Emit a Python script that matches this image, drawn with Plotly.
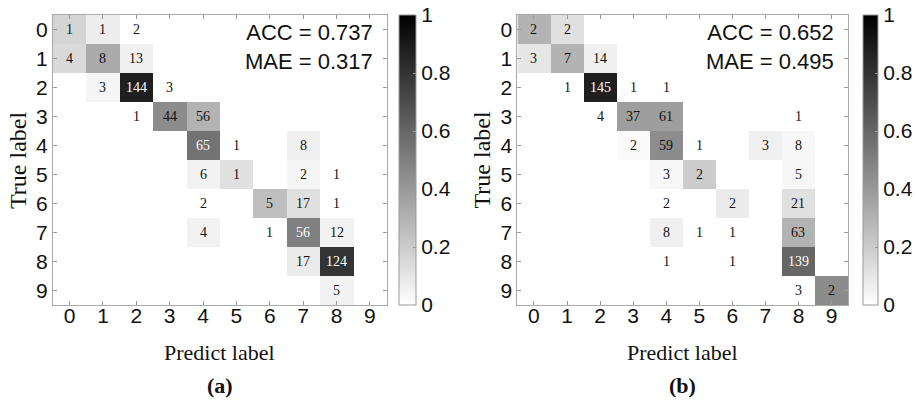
import plotly.graph_objects as go

labels = [str(i) for i in range(10)]

# Panel (a): counts (row, col, count) and shade (0..1)
a_rows   = [0, 0, 0, 1, 1, 1, 2, 2, 2, 3, 3, 3, 4, 4, 4, 5, 5, 5, 5, 6, 6, 6, 6, 7, 7, 7, 7, 8, 8, 9]
a_cols   = [0, 1, 2, 0, 1, 2, 1, 2, 3, 2, 3, 4, 4, 5, 7, 4, 5, 7, 8, 4, 6, 7, 8, 4, 6, 7, 8, 7, 8, 8]
a_counts = [1, 1, 2, 4, 8, 13, 3, 144, 3, 1, 44, 56, 65, 1, 8, 6, 1, 2, 1, 2, 5, 17, 1, 4, 1, 56, 12, 17, 124, 5]
a_shade  = [0.17, 0.07, 0.0, 0.15, 0.33, 0.06, 0.04, 0.88, 0.0, 0.0, 0.45, 0.3, 0.55, 0.0, 0.06,
            0.05, 0.12, 0.04, 0.0, 0.0, 0.25, 0.12, 0.0, 0.05, 0.0, 0.5, 0.05, 0.08, 0.8, 0.05]

# Panel (b)
b_rows   = [0, 0, 1, 1, 1, 2, 2, 2, 2, 3, 3, 3, 3, 4, 4, 4, 4, 4, 5, 5, 5, 6, 6, 6, 7, 7, 7, 7, 8, 8, 8, 9, 9]
b_cols   = [0, 1, 0, 1, 2, 1, 2, 3, 4, 2, 3, 4, 8, 3, 4, 5, 7, 8, 4, 5, 8, 4, 6, 8, 4, 5, 6, 8, 4, 6, 8, 8, 9]
b_counts = [2, 2, 3, 7, 14, 1, 145, 1, 1, 4, 37, 61, 1, 2, 59, 1, 3, 8, 3, 2, 5, 2, 2, 21, 8, 1, 1, 63, 1, 1, 139, 3, 2]
b_shade  = [0.3, 0.12, 0.1, 0.3, 0.06, 0.0, 0.88, 0.0, 0.0, 0.0, 0.38, 0.38, 0.0, 0.02, 0.45, 0.0, 0.06, 0.03,
            0.03, 0.2, 0.03, 0.0, 0.08, 0.12, 0.06, 0.0, 0.0, 0.3, 0.0, 0.0, 0.6, 0.0, 0.45]

panel_text = ["ACC = 0.737<br>MAE = 0.317", "ACC = 0.652<br>MAE = 0.495"]
panel_tags = ["(a)", "(b)"]
cbar_ticks = [0, 0.2, 0.4, 0.6, 0.8, 1]
cbar_ticktext = ["0", "0.2", "0.4", "0.6", "0.8", "1"]

W, H = 916, 401
px = lambda v: v / W
py = lambda v: 1 - v / H

panels = [
    dict(rows=a_rows, cols=a_cols, counts=a_counts, shade=a_shade, x0=53, x1=387, cb=399, cbw=17),
    dict(rows=b_rows, cols=b_cols, counts=b_counts, shade=b_shade, x0=518, x1=849, cb=863, cbw=15),
]
top, bottom = 15, 305

fig = go.Figure()
annotations = []
colorscale = [[0, "rgb(255,255,255)"], [1, "rgb(0,0,0)"]]
for k, p in enumerate(panels):
    z = [[0.0] * 10 for _ in range(10)]
    for r, c, s in zip(p["rows"], p["cols"], p["shade"]):
        z[r][c] = s
    xa = "x" if k == 0 else "x2"
    ya = "y" if k == 0 else "y2"
    fig.add_trace(go.Heatmap(
        z=z, x=list(range(10)), y=list(range(10)), xaxis=xa, yaxis=ya,
        zmin=0, zmax=1, colorscale=colorscale, hoverinfo="skip",
        colorbar=dict(
            x=px(p["cb"]), xanchor="left", xref="paper",
            y=py((top + bottom) / 2), yanchor="middle",
            len=bottom - top, lenmode="pixels", thickness=p["cbw"], thicknessmode="pixels",
            outlinecolor="#999", outlinewidth=1,
            tickvals=cbar_ticks, ticktext=cbar_ticktext,
            ticks="inside", ticklen=3, tickcolor="#999",
            tickfont=dict(family="Liberation Sans, Arial", size=21, color="#111"),
            xpad=0, ypad=0,
        ),
    ))
    for r, c, n, s in zip(p["rows"], p["cols"], p["counts"], p["shade"]):
        annotations.append(dict(
            x=c, y=r, xref=xa, yref=ya, text=str(n), showarrow=False,
            font=dict(family="Liberation Serif, Times New Roman", size=14,
                      color="white" if s >= 0.5 else "#111"),
        ))
    annotations.append(dict(
        x=px(p["x1"] - 12), y=py(top + 3), xref="paper", yref="paper",
        xanchor="right", yanchor="top", align="right", showarrow=False,
        text=panel_text[k],
        font=dict(family="Liberation Sans, Arial", size=22, color="#111"),
    ))
    cx = (p["x0"] + p["x1"]) / 2
    annotations.append(dict(
        x=px(cx), y=py(352), xref="paper", yref="paper", showarrow=False,
        xanchor="center", yanchor="middle",
        text="Predict label", font=dict(family="Liberation Serif, Times New Roman", size=22, color="#111"),
    ))
    annotations.append(dict(
        x=px(cx), y=py(385), xref="paper", yref="paper", showarrow=False,
        xanchor="center", yanchor="middle",
        text="<b>" + panel_tags[k] + "</b>",
        font=dict(family="Liberation Serif, Times New Roman", size=22, color="#111"),
    ))
    annotations.append(dict(
        x=px(p["x0"] - 35), y=py((top + bottom) / 2), xref="paper", yref="paper",
        xanchor="center", yanchor="middle",
        showarrow=False, textangle=-90,
        text="True label", font=dict(family="Liberation Serif, Times New Roman", size=24, color="#111"),
    ))

axis_common = dict(
    tickvals=list(range(10)), ticktext=labels,
    ticks="inside", ticklen=4, tickcolor="#999",
    showline=True, linecolor="#aaa", linewidth=1, mirror="ticks",
    showgrid=False, zeroline=False,
    tickfont=dict(family="Liberation Sans, Arial", size=21, color="#111"),
)
x_extra = dict(ticklabelstandoff=-8)

fig.update_layout(
    width=W, height=H, margin=dict(l=0, r=0, t=0, b=0),
    paper_bgcolor="white", plot_bgcolor="white",
    annotations=annotations,
    xaxis=dict(domain=[px(53), px(387)], range=[-0.5, 9.5], anchor="y", **axis_common, **x_extra),
    yaxis=dict(domain=[py(bottom), py(top)], range=[9.5, -0.5], anchor="x", **axis_common),
    xaxis2=dict(domain=[px(518), px(849)], range=[-0.5, 9.5], anchor="y2", **axis_common, **x_extra),
    yaxis2=dict(domain=[py(bottom), py(top)], range=[9.5, -0.5], anchor="x2", **axis_common),
)

fig.write_html("out.html", config={"displayModeBar": False},
               post_script="document.body.style.margin='0';document.body.style.overflow='hidden';")
